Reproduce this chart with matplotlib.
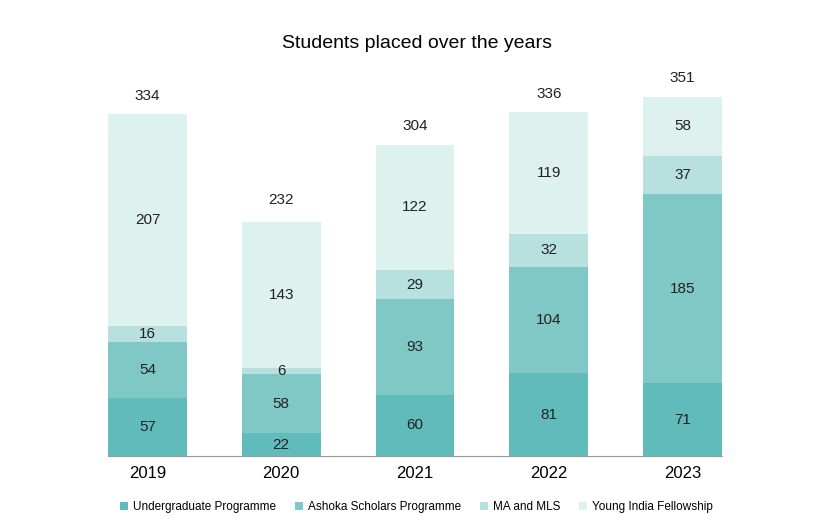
import numpy as np
import matplotlib.pyplot as plt
from matplotlib.patches import Patch

plt.rcParams['font.family'] = ['Liberation Sans', 'DejaVu Sans']

# datos
years = ['2019', '2020', '2021', '2022', '2023']
undergrad = [57, 22, 60, 81, 71]
ashoka = [54, 58, 93, 104, 185]
ma_mls = [16, 6, 29, 32, 37]
yif = [207, 143, 122, 119, 58]
totals = [334, 232, 304, 336, 351]

series = [
    ('Undergraduate Programme', undergrad, '#62bbbb'),
    ('Ashoka Scholars Programme', ashoka, '#80c8c6'),
    ('MA and MLS', ma_mls, '#b7e0df'),
    ('Young India Fellowship', yif, '#ddf1ef'),
]

fig = plt.figure(figsize=(8.33, 5.25), dpi=100)
ax = fig.add_axes([0.1297, 0.1314, 0.737, 0.702])

x = np.arange(len(years))
width = 0.59
bottom = np.zeros(len(years))
handles = []
for name, vals, color in series:
    vals = np.array(vals)
    ax.bar(x, vals, width, bottom=bottom, color=color, linewidth=0)
    for xi, b, v in zip(x, bottom, vals):
        ax.text(xi, b + v / 2, str(v), ha='center', va='center', fontsize=11, color='#222222')
    bottom += vals
    handles.append(Patch(facecolor=color, label=name))

for xi, t in zip(x, totals):
    ax.text(xi, t + 18, str(t), ha='center', va='center', fontsize=11, color='#222222')

ax.set_xlim(-width / 2, len(years) - 1 + width / 2)
ax.set_ylim(0, 360)
ax.set_xticks(x)
ax.set_xticklabels(years, fontsize=12)
ax.tick_params(axis='x', length=0, pad=7)
ax.set_yticks([])
for s in ['top', 'right', 'left']:
    ax.spines[s].set_visible(False)
ax.spines['bottom'].set_color('#999999')

fig.text(0.5, 0.918, 'Students placed over the years', ha='center', va='center', fontsize=14)

fig.legend(handles=handles, loc='center', bbox_to_anchor=(0.5, 0.034), ncol=4,
           frameon=False, fontsize=8.5, handlelength=0.7, handleheight=0.7,
           handletextpad=0.4, columnspacing=1.6)

fig.savefig('out.png', dpi=100)
